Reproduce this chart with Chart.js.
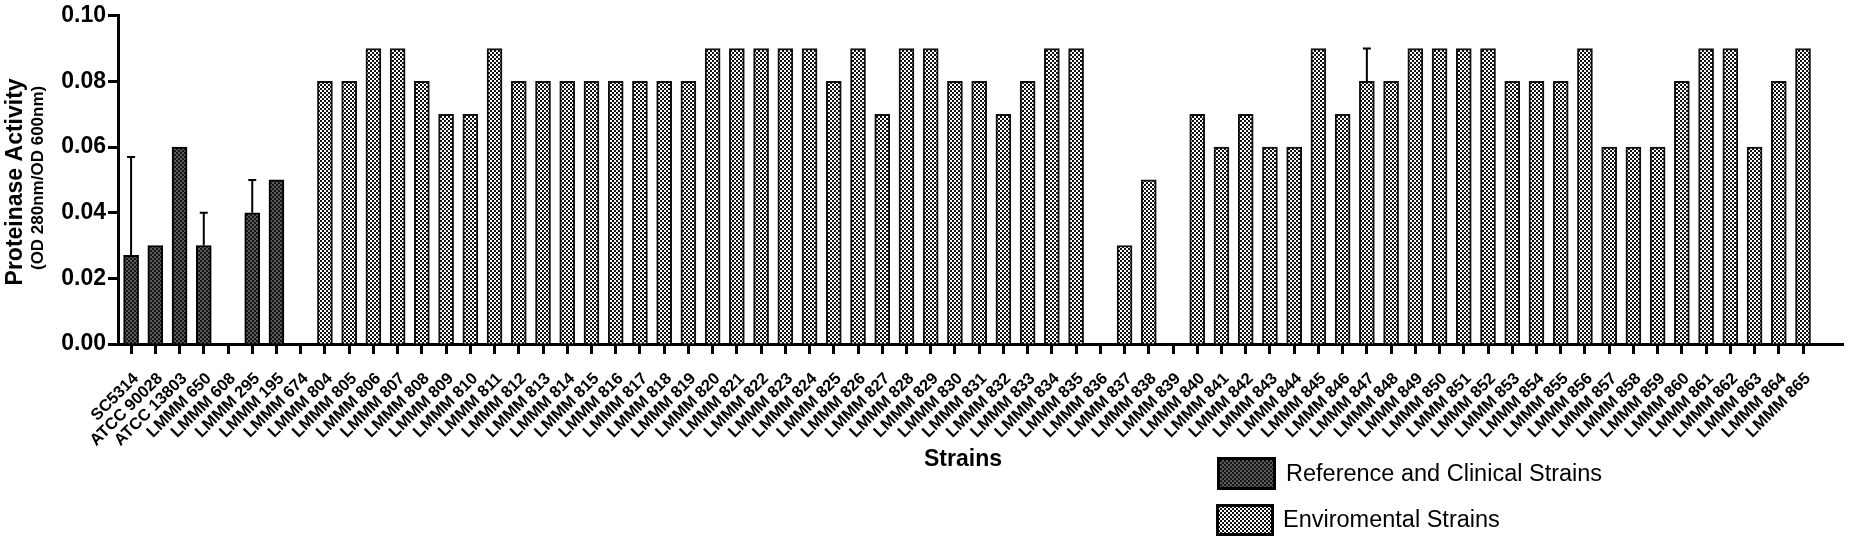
<!DOCTYPE html>
<html><head><meta charset="utf-8">
<script src="https://cdn.jsdelivr.net/npm/chart.js@4.4.1/dist/chart.umd.min.js"></script>
<style>html,body{margin:0;padding:0;background:#fff;} #wrap{width:1850px;height:539px;position:relative;}</style>
</head><body><div id="wrap"><canvas id="c" width="1850" height="539"></canvas></div>
<script>
const categories = ['SC5314','ATCC 90028','ATCC 13803','LMMM 650','LMMM 608','LMMM 295','LMMM 195','LMMM 674',
 'LMMM 804','LMMM 805','LMMM 806','LMMM 807','LMMM 808','LMMM 809','LMMM 810','LMMM 811','LMMM 812','LMMM 813',
 'LMMM 814','LMMM 815','LMMM 816','LMMM 817','LMMM 818','LMMM 819','LMMM 820','LMMM 821','LMMM 822','LMMM 823',
 'LMMM 824','LMMM 825','LMMM 826','LMMM 827','LMMM 828','LMMM 829','LMMM 830','LMMM 831','LMMM 832','LMMM 833',
 'LMMM 834','LMMM 835','LMMM 836','LMMM 837','LMMM 838','LMMM 839','LMMM 840','LMMM 841','LMMM 842','LMMM 843',
 'LMMM 844','LMMM 845','LMMM 846','LMMM 847','LMMM 848','LMMM 849','LMMM 850','LMMM 851','LMMM 852','LMMM 853',
 'LMMM 854','LMMM 855','LMMM 856','LMMM 857','LMMM 858','LMMM 859','LMMM 860','LMMM 861','LMMM 862','LMMM 863',
 'LMMM 864','LMMM 865'];

// Reference and clinical strains (first 8 categories)
const refValues = [0.027, 0.030, 0.060, 0.030, null, 0.040, 0.050, null];
const refErrors = [0.030, 0, 0, 0.010, 0, 0.010, 0, 0];

// Environmental strains (LMMM 804 .. LMMM 865)
const envValues = [0.08,0.08,0.09,0.09,0.08,0.07,0.07,0.09,0.08,0.08,
                   0.08,0.08,0.08,0.08,0.08,0.08,0.09,0.09,0.09,0.09,
                   0.09,0.08,0.09,0.07,0.09,0.09,0.08,0.08,0.07,0.08,
                   0.09,0.09,null,0.03,0.05,null,0.07,0.06,0.07,0.06,
                   0.06,0.09,0.07,0.08,0.08,0.09,0.09,0.09,0.09,0.08,
                   0.08,0.08,0.09,0.06,0.06,0.06,0.08,0.09,0.09,0.06,
                   0.08,0.09];
const envErrors = [0,0,0,0,0,0,0,0,0,0, 0,0,0,0,0,0,0,0,0,0, 0,0,0,0,0,0,0,0,0,0,
                   0,0,0,0,0,0,0,0,0,0, 0,0,0,0.01,0,0,0,0,0,0, 0,0,0,0,0,0,0,0,0,0, 0,0];

const yTicks = [0, 0.02, 0.04, 0.06, 0.08, 0.10];
const seriesLabels = ['Reference and Clinical Strains', 'Enviromental Strains'];
const FONT = '"Liberation Sans", Arial, Helvetica, sans-serif';

function makePattern(c1, c2, cell) {
  const p = document.createElement('canvas');
  p.width = cell * 2; p.height = cell * 2;
  const g = p.getContext('2d');
  g.fillStyle = c1; g.fillRect(0, 0, cell * 2, cell * 2);
  g.fillStyle = c2; g.fillRect(0, 0, cell, cell); g.fillRect(cell, cell, cell, cell);
  return document.getElementById('c').getContext('2d').createPattern(p, 'repeat');
}
const darkPattern = makePattern('#5a5a5a', '#161616', 2);
const lightPattern = makePattern('#ffffff', '#111111', 2);

function toPoints(values, errors, offset) {
  const pts = [];
  values.forEach((v, i) => { if (v !== null) pts.push({x: i + offset, y: v, err: errors[i]}); });
  return pts;
}

const errorBars = {
  id: 'errorBars',
  afterDatasetsDraw(chart) {
    const ctx = chart.ctx, ys = chart.scales.y;
    ctx.save();
    ctx.strokeStyle = '#000'; ctx.lineWidth = 2;
    chart.data.datasets.forEach((ds, di) => {
      const meta = chart.getDatasetMeta(di);
      meta.data.forEach((el, j) => {
        const d = ds.data[j];
        if (!d.err) return;
        const top = ys.getPixelForValue(d.y + d.err);
        ctx.beginPath();
        ctx.moveTo(el.x, el.y); ctx.lineTo(el.x, top);
        ctx.moveTo(el.x - 4, top); ctx.lineTo(el.x + 4, top);
        ctx.stroke();
      });
    });
    ctx.restore();
  }
};

const decorations = {
  id: 'decorations',
  afterDraw(chart) {
    const ctx = chart.ctx;
    const area = chart.chartArea;
    ctx.save();
    ctx.fillStyle = '#000';
    const cy = (area.top + area.bottom) / 2;
    ctx.save();
    ctx.translate(21.5, cy + 2);
    ctx.rotate(-Math.PI / 2);
    ctx.font = 'bold 23px ' + FONT;
    ctx.textAlign = 'center'; ctx.textBaseline = 'alphabetic';
    ctx.fillText('Proteinase Activity', 0, 0);
    ctx.restore();
    ctx.save();
    ctx.translate(43, cy - 2);
    ctx.rotate(-Math.PI / 2);
    ctx.font = 'bold 17px ' + FONT;
    ctx.textAlign = 'center'; ctx.textBaseline = 'alphabetic';
    ctx.fillText('(OD 280nm/OD 600nm)', 0, 0);
    ctx.restore();
    ctx.font = 'bold 23px ' + FONT;
    ctx.textAlign = 'center'; ctx.textBaseline = 'alphabetic';
    ctx.fillText('Strains', 963, 466);
    const items = [
      {box: [1217, 457, 59, 33], tx: 1286, ty: 481},
      {box: [1216, 504, 58, 32], tx: 1283, ty: 527}
    ];
    ctx.font = '23.5px ' + FONT;
    ctx.textAlign = 'left';
    chart.data.datasets.forEach((ds, i) => {
      const it = items[i];
      const [bx, by, bw, bh] = it.box;
      ctx.fillStyle = ds.backgroundColor;
      ctx.fillRect(bx, by, bw, bh);
      ctx.strokeStyle = '#000'; ctx.lineWidth = 3;
      ctx.strokeRect(bx + 1.5, by + 1.5, bw - 3, bh - 3);
      ctx.fillStyle = '#000';
      ctx.fillText(ds.label, it.tx, it.ty);
    });
    ctx.restore();
  }
};

new Chart(document.getElementById('c'), {
  type: 'bar',
  data: {
    datasets: [
      {label: seriesLabels[0], data: toPoints(refValues, refErrors, 0), backgroundColor: darkPattern,
       borderColor: '#000', borderWidth: 2, barThickness: 15, grouped: false},
      {label: seriesLabels[1], data: toPoints(envValues, envErrors, refValues.length), backgroundColor: lightPattern,
       borderColor: '#111', borderWidth: 2, barThickness: 15, grouped: false}
    ]
  },
  options: {
    responsive: false,
    devicePixelRatio: 1,
    animation: false,
    layout: {padding: {top: 14, right: 7, bottom: 0, left: 0}},
    plugins: {legend: {display: false}, tooltip: {enabled: false}, title: {display: false}},
    scales: {
      x: {
        type: 'linear', min: -0.54, max: 70.65, bounds: 'data', offset: false,
        afterBuildTicks: s => { s.ticks = categories.map((c, i) => ({value: i})); },
        afterFit: s => { s.height = 195; },
        ticks: {autoSkip: false, maxRotation: 45, minRotation: 45, padding: 15, labelOffset: 5, color: '#000',
                font: {family: FONT, size: 16.5, weight: 'bold'}, callback: v => categories[v]},
        grid: {drawOnChartArea: false, drawTicks: true, tickLength: 10, tickWidth: 3, tickColor: '#000', offset: false},
        border: {display: true, color: '#000', width: 3}
      },
      y: {
        min: 0, max: 0.1,
        afterBuildTicks: s => { s.ticks = yTicks.map(v => ({value: v})); },
        afterFit: s => { s.width = 118; },
        ticks: {color: '#000', padding: 2, font: {family: FONT, size: 23, weight: 'bold'}, callback: v => v.toFixed(2)},
        grid: {drawOnChartArea: false, drawTicks: true, tickLength: 10, tickWidth: 3, tickColor: '#000'},
        border: {display: true, color: '#000', width: 3}
      }
    }
  },
  plugins: [errorBars, decorations]
});
</script>
</body></html>
